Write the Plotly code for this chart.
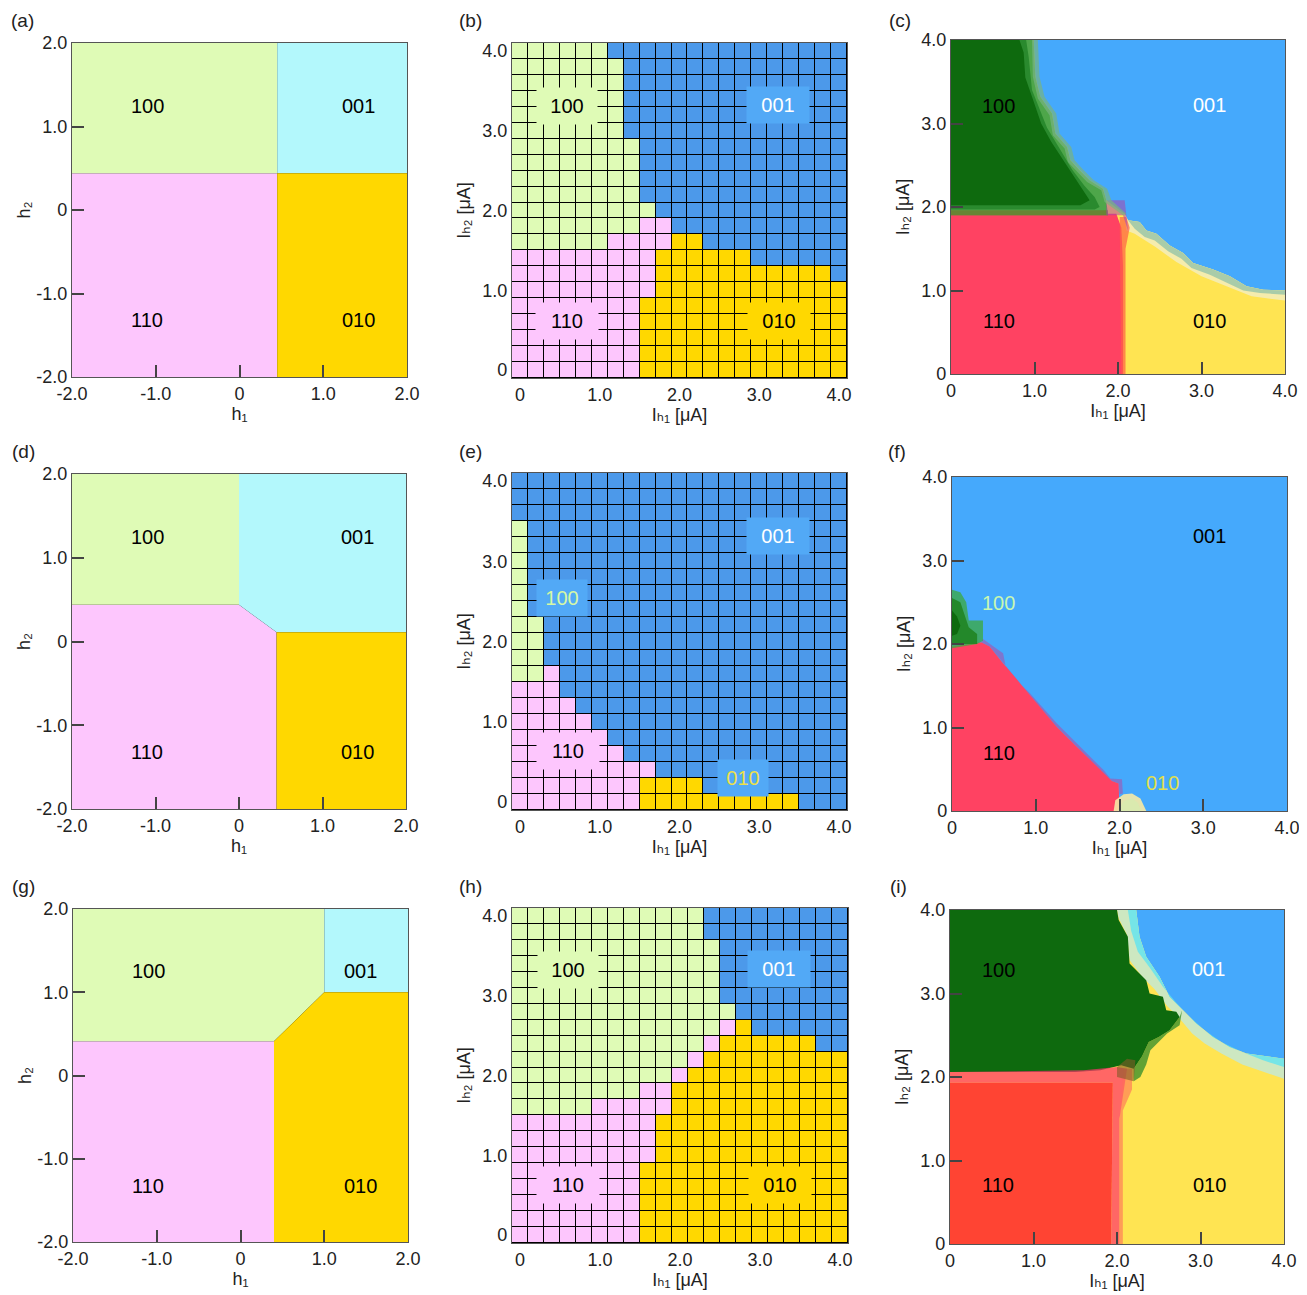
import plotly.graph_objects as go

# The page body keeps its default 8 px margin, so the figure is drawn 8 px in from
# the window's top-left corner.
PAGE_PAD = 8
W, H = 1307 - PAGE_PAD, 1295 - PAGE_PAD
FONT = "Liberation Sans, Arial, Helvetica, DejaVu Sans, sans-serif"

# ---------------- palette ----------------
PINK = "#FDC6FD"
LGREEN = "#DFFBB6"
CYAN = "#B3F8FC"
GOLD = "#FFD800"
GRID_BLUE = "#4C99EA"
BOX_BLUE = "#52A9F6"
R_BLUE = "#45A9FC"
R_GREEN = "#0E6A0E"
R_RED = "#FF4262"
R_RED_I = "#FF4433"
R_YELLOW = "#FFE452"

# ---------------- left column: model phase diagrams (h1, h2) ----------------
A_110_X = [-2, 0.45, 0.45, -2];        A_110_Y = [-2, -2, 0.44, 0.44]
A_100_X = [-2, 0.45, 0.45, -2];        A_100_Y = [0.44, 0.44, 2, 2]
A_001_X = [0.45, 2, 2, 0.45];          A_001_Y = [0.44, 0.44, 2, 2]
A_010_X = [0.45, 2, 2, 0.45];          A_010_Y = [-2, -2, 0.44, 0.44]

D_110_X = [-2, 0.45, 0.45, 0, -2];     D_110_Y = [-2, -2, 0.11, 0.44, 0.44]
D_100_X = [-2, 0, 0, -2];              D_100_Y = [0.44, 0.44, 2, 2]
D_001_X = [0, 2, 2, 0.45, 0];          D_001_Y = [2, 2, 0.11, 0.11, 0.44]
D_010_X = [0.45, 2, 2, 0.45];          D_010_Y = [-2, -2, 0.11, 0.11]

G_110_X = [-2, 0.4, 0.4, -2];          G_110_Y = [-2, -2, 0.41, 0.41]
G_100_X = [-2, 0.4, 1, 1, -2];         G_100_Y = [0.41, 0.41, 1, 2, 2]
G_001_X = [1, 2, 2, 1];                G_001_Y = [1, 1, 2, 2]
G_010_X = [0.4, 2, 2, 1, 0.4];         G_010_Y = [-2, -2, 1, 1, 0.41]

H_TICKS = [-2, -1, 0, 1, 2]
H_TICKTEXT = ["-2.0", "-1.0", "0", "1.0", "2.0"]

# ---------------- middle column: measured grid (Ih1, Ih2) ----------------
I_VALUES = [0.0, 0.2, 0.4, 0.6, 0.8, 1.0, 1.2, 1.4, 1.6, 1.8, 2.0,
            2.2, 2.4, 2.6, 2.8, 3.0, 3.2, 3.4, 3.6, 3.8, 4.0]
# rows listed from Ih2 = 4.0 (top) down to 0.0; P=110, G=100, B=001, Y=010
B_ROWS = [
    "GGGGGGBBBBBBBBBBBBBBB",
    "GGGGGGGBBBBBBBBBBBBBB",
    "GGGGGGGBBBBBBBBBBBBBB",
    "GGGGGGGBBBBBBBBBBBBBB",
    "GGGGGGGBBBBBBBBBBBBBB",
    "GGGGGGGBBBBBBBBBBBBBB",
    "GGGGGGGGBBBBBBBBBBBBB",
    "GGGGGGGGBBBBBBBBBBBBB",
    "GGGGGGGGBBBBBBBBBBBBB",
    "GGGGGGGGBBBBBBBBBBBBB",
    "GGGGGGGGGBBBBBBBBBBBB",
    "GGGGGGGGPPBBBBBBBBBBB",
    "GGGGGGPPPPYYBBBBBBBBB",
    "PPPPPPPPPYYYYYYBBBBBB",
    "PPPPPPPPPYYYYYYYYYYYB",
    "PPPPPPPPPYYYYYYYYYYYY",
    "PPPPPPPPYYYYYYYYYYYYY",
    "PPPPPPPPYYYYYYYYYYYYY",
    "PPPPPPPPYYYYYYYYYYYYY",
    "PPPPPPPPYYYYYYYYYYYYY",
    "PPPPPPPPYYYYYYYYYYYYY",
]
E_ROWS = [
    "BBBBBBBBBBBBBBBBBBBBB",
    "BBBBBBBBBBBBBBBBBBBBB",
    "BBBBBBBBBBBBBBBBBBBBB",
    "GBBBBBBBBBBBBBBBBBBBB",
    "GBBBBBBBBBBBBBBBBBBBB",
    "GBBBBBBBBBBBBBBBBBBBB",
    "GBBBBBBBBBBBBBBBBBBBB",
    "GBBBBBBBBBBBBBBBBBBBB",
    "GBBBBBBBBBBBBBBBBBBBB",
    "GGBBBBBBBBBBBBBBBBBBB",
    "GGBBBBBBBBBBBBBBBBBBB",
    "GGBBBBBBBBBBBBBBBBBBB",
    "GGPBBBBBBBBBBBBBBBBBB",
    "PPPBBBBBBBBBBBBBBBBBB",
    "PPPPBBBBBBBBBBBBBBBBB",
    "PPPPPBBBBBBBBBBBBBBBB",
    "PPPPPPBBBBBBBBBBBBBBB",
    "PPPPPPPBBBBBBBBBBBBBB",
    "PPPPPPPPPBBBBBBBBBBBB",
    "PPPPPPPPYYYYBBBBBBBBB",
    "PPPPPPPPYYYYYYYYYYBBB",
]
H_ROWS = [
    "GGGGGGGGGGGGBBBBBBBBB",
    "GGGGGGGGGGGGBBBBBBBBB",
    "GGGGGGGGGGGGGBBBBBBBB",
    "GGGGGGGGGGGGGBBBBBBBB",
    "GGGGGGGGGGGGGBBBBBBBB",
    "GGGGGGGGGGGGGBBBBBBBB",
    "GGGGGGGGGGGGGGBBBBBBB",
    "GGGGGGGGGGGGGPYBBBBBB",
    "GGGGGGGGGGGGPYYYYYYBB",
    "GGGGGGGGGGGPYYYYYYYYY",
    "GGGGGGGGGGPYYYYYYYYYY",
    "GGGGGGGGPPYYYYYYYYYYY",
    "GGGGGPPPPPYYYYYYYYYYY",
    "PPPPPPPPPYYYYYYYYYYYY",
    "PPPPPPPPPYYYYYYYYYYYY",
    "PPPPPPPPPYYYYYYYYYYYY",
    "PPPPPPPPYYYYYYYYYYYYY",
    "PPPPPPPPYYYYYYYYYYYYY",
    "PPPPPPPPYYYYYYYYYYYYY",
    "PPPPPPPPYYYYYYYYYYYYY",
    "PPPPPPPPYYYYYYYYYYYYY",
]
CODE = {"P": 0, "G": 1, "B": 2, "Y": 3}

I_TICKS = [0, 1, 2, 3, 4]
I_TICKTEXT = ["0", "1.0", "2.0", "3.0", "4.0"]

# ---------------- right column: simulated (smoothed) phase maps ----------------
# (c)
C_001_X = [0.99, 1.01, 1.07, 1.21, 1.25, 1.39, 1.43, 1.54, 1.66, 1.82, 1.86, 2.08, 2.12, 2.26,
           2.34, 2.46, 2.62, 2.78, 2.90, 3.14, 3.34, 3.54, 3.74, 4.0, 4.0]
C_001_Y = [4.0, 3.56, 3.32, 3.12, 2.88, 2.72, 2.56, 2.44, 2.32, 2.22, 2.08, 1.92, 1.84, 1.82,
           1.72, 1.68, 1.54, 1.45, 1.33, 1.25, 1.17, 1.05, 1.01, 1.0, 4.0]
C_PALE_X = [2.08, 2.12, 2.26, 2.34, 2.46, 2.62, 2.78, 2.90, 3.14, 3.34, 3.54, 3.74, 4.0,
            4.0, 3.6, 3.3, 3.0, 2.7, 2.45, 2.2, 2.1]
C_PALE_Y = [1.92, 1.84, 1.82, 1.72, 1.68, 1.54, 1.45, 1.33, 1.25, 1.17, 1.05, 1.01, 1.0,
            0.88, 0.93, 1.05, 1.17, 1.34, 1.52, 1.68, 1.72]
C_GRAY_X = [2.12, 2.26, 2.34, 2.46, 2.62, 2.78, 2.90, 3.14, 3.34, 3.54, 3.74, 4.0,
            4.0, 3.7, 3.5, 3.3, 3.1, 2.88, 2.76, 2.6, 2.44, 2.32, 2.2]
C_GRAY_Y = [1.84, 1.82, 1.72, 1.68, 1.54, 1.45, 1.33, 1.25, 1.17, 1.05, 1.01, 1.0,
            0.95, 0.97, 1.0, 1.1, 1.19, 1.27, 1.38, 1.47, 1.6, 1.64, 1.74]
C_110_X = [0, 2.06, 2.06, 2.04, 1.98, 0]
C_110_Y = [0, 0, 1.3, 1.75, 1.92, 1.92]
C_REDBAND_X = [2.04, 2.09, 2.09, 2.14, 2.1, 2.02]
C_REDBAND_Y = [0, 0, 1.5, 1.75, 1.88, 1.88]
C_PURPLE_X = [1.86, 2.06, 2.12, 2.08, 1.86]
C_PURPLE_Y = [1.9, 1.9, 1.72, 2.08, 2.08]
C_GBASE_X = [0, 0.99, 1.01, 1.07, 1.21, 1.25, 1.39, 1.43, 1.54, 1.66, 1.82, 1.86, 1.88, 0]
C_GBASE_Y = [4, 4, 3.56, 3.32, 3.12, 2.88, 2.72, 2.56, 2.44, 2.32, 2.22, 2.08, 1.9, 1.9]
C_OLIVE_X = [0, 1.88, 1.88, 0]
C_OLIVE_Y = [1.9, 1.9, 1.96, 1.96]
C_GEDGE_X = [0.97, 1.04, 1.06, 1.12, 1.26, 1.30, 1.44, 1.48, 1.59, 1.71, 1.87, 1.92, 2.10,
             2.06, 1.84, 1.80, 1.63, 1.51, 1.40, 1.36, 1.22, 1.18, 1.04, 0.98]
C_GEDGE_Y = [4.0, 4.0, 3.56, 3.32, 3.12, 2.88, 2.72, 2.56, 2.44, 2.32, 2.22, 2.08, 1.92,
             1.90, 2.06, 2.2, 2.3, 2.42, 2.54, 2.7, 2.86, 3.1, 3.3, 3.56]
C_GBAND2_X = [0, 0.9, 0.93, 0.97, 1.07, 1.15, 1.3, 1.45, 1.6, 1.72, 1.78, 1.72, 0]
C_GBAND2_Y = [4, 4, 3.8, 3.4, 3.15, 2.95, 2.7, 2.45, 2.25, 2.12, 2.0, 1.97, 1.97]
C_100_X = [0, 0.82, 0.87, 0.89, 0.97, 1.08, 1.2, 1.35, 1.5, 1.6, 1.66, 1.55, 0]
C_100_Y = [4, 4, 3.85, 3.55, 3.32, 3.0, 2.78, 2.55, 2.32, 2.18, 2.08, 2.02, 2.02]

# (f)
F_110_X = [0, 0, 0.35, 0.45, 0.61, 0.81, 1.01, 1.25, 1.49, 1.73, 1.91, 1.99, 2.0]
F_110_Y = [0, 1.97, 2.02, 1.97, 1.77, 1.53, 1.29, 1.01, 0.77, 0.53, 0.36, 0.33, 0]
F_BAND_X = [0.35, 0.37, 0.61, 0.65, 0.93, 1.25, 1.57, 1.81, 1.89, 2.03, 2.04, 2.0,
            1.99, 1.91, 1.73, 1.49, 1.25, 1.01, 0.81, 0.61, 0.45]
F_BAND_Y = [2.02, 2.06, 1.89, 1.69, 1.41, 1.05, 0.73, 0.49, 0.39, 0.38, 0.21, 0.2,
            0.33, 0.36, 0.53, 0.77, 1.01, 1.29, 1.53, 1.77, 1.97]
F_G1_X = [0, 0, 0.1, 0.17, 0.2, 0.37, 0.37, 0.3]
F_G1_Y = [1.95, 2.65, 2.62, 2.5, 2.28, 2.28, 2.04, 2.0]
F_G2_X = [0, 0, 0.1, 0.15, 0.2, 0.3, 0.3]
F_G2_Y = [2.0, 2.55, 2.5, 2.35, 2.2, 2.12, 2.0]
F_G3_X = [0, 0, 0.06, 0.1, 0.06]
F_G3_Y = [2.1, 2.4, 2.33, 2.22, 2.12]
F_Y1_X = [1.93, 1.95, 2.05, 2.15, 2.25, 2.32]
F_Y1_Y = [0, 0.13, 0.2, 0.21, 0.15, 0]
F_Y2_X = [1.98, 2.05, 2.15, 2.22, 2.26]
F_Y2_Y = [0, 0.12, 0.15, 0.1, 0]

# (i)
I_001_X = [2.23, 2.27, 2.35, 2.51, 2.63, 2.79, 2.95, 3.15, 3.35, 3.55, 4.0, 4.0]
I_001_Y = [4.0, 3.68, 3.44, 3.2, 2.96, 2.8, 2.64, 2.48, 2.36, 2.28, 2.22, 4.0]
I_PALE_X = [2.0, 2.02, 2.12, 2.15, 2.3, 2.45, 2.6, 2.75, 2.9, 3.05, 3.25, 3.5, 3.7, 4.0,
            4.0, 3.55, 3.35, 3.15, 2.95, 2.79, 2.63, 2.51, 2.35, 2.27, 2.23]
I_PALE_Y = [4.0, 3.9, 3.7, 3.4, 3.2, 3.05, 2.85, 2.7, 2.52, 2.4, 2.28, 2.15, 2.08, 1.98,
            2.22, 2.28, 2.36, 2.48, 2.64, 2.8, 2.96, 3.2, 3.44, 3.68, 4.0]
I_CYAN_X = [2.13, 2.17, 2.25, 2.4, 2.55, 2.7, 2.85, 3.05, 3.25, 3.5, 3.75, 4.0,
            4.0, 3.55, 3.35, 3.15, 2.95, 2.79, 2.63, 2.51, 2.35, 2.27, 2.23]
I_CYAN_Y = [4.0, 3.75, 3.5, 3.3, 3.08, 2.9, 2.74, 2.56, 2.42, 2.3, 2.2, 2.12,
            2.22, 2.28, 2.36, 2.48, 2.64, 2.8, 2.96, 3.2, 3.44, 3.68, 4.0]
I_GBAND_X = [2.2, 2.3, 2.38, 2.5, 2.63, 2.75, 2.78, 2.75, 2.6, 2.5, 2.4, 2.35, 2.28, 2.2]
I_GBAND_Y = [2.1, 2.25, 2.42, 2.48, 2.56, 2.72, 2.8, 2.62, 2.52, 2.42, 2.32, 2.15, 2.0, 1.95]
I_100_X = [0, 2.0, 2.02, 2.13, 2.15, 2.35, 2.39, 2.55, 2.59, 2.71, 2.75, 2.63, 2.5, 2.38,
           2.3, 2.2, 2.05, 1.8, 1.5, 0]
I_100_Y = [4, 4, 3.88, 3.68, 3.36, 3.16, 3.0, 2.96, 2.8, 2.78, 2.72, 2.56, 2.48, 2.42,
           2.25, 2.1, 2.14, 2.08, 2.06, 2.06]
I_110_X = [0, 1.93, 1.95, 0]
I_110_Y = [0, 0, 1.93, 1.93]
I_RBAND_X = [0, 1.95, 1.93, 2.03, 2.03, 2.08, 2.12, 2.0, 1.6, 0]
I_RBAND_Y = [1.93, 1.93, 0, 0, 1.5, 1.85, 2.1, 2.12, 2.08, 2.06]
I_RBAND2_X = [2.03, 2.07, 2.07, 2.18, 2.18, 2.08, 2.03]
I_RBAND2_Y = [0, 0, 1.6, 1.85, 2.1, 2.1, 1.5]
I_OLIVE_X = [2.0, 2.2, 2.22, 2.12, 2.0]
I_OLIVE_Y = [2.0, 1.95, 2.2, 2.22, 2.12]

# ---------------- region labels ----------------
LEFT_LABELS = {  # panel: list of (text, x, y)
    1: [("100", -1.1, 1.25), ("001", 1.42, 1.25), ("110", -1.1, -1.32), ("010", 1.42, -1.32)],
    4: [("100", -1.1, 1.25), ("001", 1.42, 1.25), ("110", -1.1, -1.32), ("010", 1.42, -1.32)],
    7: [("100", -1.1, 1.26), ("001", 1.43, 1.26), ("110", -1.1, -1.33), ("010", 1.43, -1.33)],
}
MID_LABELS = {  # (text, x, y, text colour, box colour, box width)
    2: [("100", 0.59, 3.31, "black", LGREEN, 58), ("001", 3.24, 3.32, "white", BOX_BLUE, 60),
        ("110", 0.59, 0.61, "black", PINK, 60), ("010", 3.25, 0.61, "black", GOLD, 60)],
    5: [("001", 3.24, 3.32, "white", BOX_BLUE, 60), ("100", 0.53, 2.54, "#D6F8A6", BOX_BLUE, 48),
        ("110", 0.6, 0.63, "black", PINK, 60), ("010", 2.8, 0.30, "#EDE04A", BOX_BLUE, 48)],
    8: [("100", 0.6, 3.32, "black", LGREEN, 58), ("001", 3.24, 3.33, "white", BOX_BLUE, 60),
        ("110", 0.6, 0.63, "black", PINK, 60), ("010", 3.25, 0.63, "black", GOLD, 60)],
}
RIGHT_LABELS = {
    3: [("100", 0.57, 3.21, "black"), ("001", 3.09, 3.22, "white"),
        ("110", 0.57, 0.64, "black"), ("010", 3.09, 0.64, "black")],
    6: [("001", 3.07, 3.29, "black"), ("100", 0.55, 2.49, "#C8F8B0"),
        ("110", 0.56, 0.69, "black"), ("010", 2.51, 0.34, "#E2E04A")],
    9: [("100", 0.58, 3.28, "black"), ("001", 3.10, 3.29, "white"),
        ("110", 0.58, 0.71, "black"), ("010", 3.11, 0.71, "black")],
}
PANEL_LETTERS = ["(a)", "(b)", "(c)", "(d)", "(e)", "(f)", "(g)", "(h)", "(i)"]
# axis titles (unicode subscripts)
H1_TITLE, H2_TITLE = "h\u2081", "h\u2082"
IH1_TITLE, IH2_TITLE = "I\u2095\u2081 [μA]", "I\u2095\u2082 [μA]"

# ---------------- layout geometry (window pixels: x0, x1, y0, y1) ----------------
PANEL_PX = {
    1: (72, 407, 43, 377), 2: (512, 847, 43, 378), 3: (951, 1285, 40, 374),
    4: (72, 406, 474, 809), 5: (512, 847, 473, 810), 6: (952, 1287, 477, 811),
    7: (73, 408, 909, 1242), 8: (512, 848, 908, 1243), 9: (950, 1284, 910, 1244),
}
LETTER_PX = {1: (22, 20), 2: (470, 20), 3: (900, 21), 4: (24, 452), 5: (470, 452),
             6: (897, 452), 7: (24, 886), 8: (470, 886), 9: (898, 886)}


def px_x(p):
    return (p - PAGE_PAD) / W


def px_y(p):
    return 1 - (p - PAGE_PAD) / H


fig = go.Figure()


def ax(k, which):
    return which if k == 1 else f"{which}{k}"


def poly(k, xs, ys, color):
    fig.add_trace(go.Scatter(
        x=xs, y=ys, mode="lines", fill="toself", fillcolor=color,
        line=dict(width=0, color=color), hoverinfo="skip", showlegend=False,
        xaxis=ax(k, "x"), yaxis=ax(k, "y")))


# left column
for k, regions in [
    (1, [(A_110_X, A_110_Y, PINK), (A_100_X, A_100_Y, LGREEN), (A_001_X, A_001_Y, CYAN), (A_010_X, A_010_Y, GOLD)]),
    (4, [(D_110_X, D_110_Y, PINK), (D_100_X, D_100_Y, LGREEN), (D_001_X, D_001_Y, CYAN), (D_010_X, D_010_Y, GOLD)]),
    (7, [(G_110_X, G_110_Y, PINK), (G_100_X, G_100_Y, LGREEN), (G_001_X, G_001_Y, CYAN), (G_010_X, G_010_Y, GOLD)]),
]:
    for xs, ys, col in regions:
        poly(k, xs, ys, col)

# middle column heatmaps
GRID_SCALE = [[0, PINK], [0.25, PINK], [0.25, LGREEN], [0.5, LGREEN],
              [0.5, GRID_BLUE], [0.75, GRID_BLUE], [0.75, GOLD], [1, GOLD]]
Y_TOP_DOWN = I_VALUES[::-1]
for k, rows in [(2, B_ROWS), (5, E_ROWS), (8, H_ROWS)]:
    z = [[CODE[c] for c in row] for row in rows]
    fig.add_trace(go.Heatmap(
        z=z, x=I_VALUES, y=Y_TOP_DOWN, colorscale=GRID_SCALE, zmin=-0.5, zmax=3.5,
        showscale=False, xgap=1, ygap=1, hoverinfo="skip",
        xaxis=ax(k, "x"), yaxis=ax(k, "y")))

FULL_X = [0, 4, 4, 0]
FULL_Y = [0, 0, 4, 4]
# (c)
poly(3, FULL_X, FULL_Y, R_YELLOW)
poly(3, C_001_X, C_001_Y, R_BLUE)
poly(3, C_PALE_X, C_PALE_Y, "rgba(244,236,178,0.95)")
poly(3, C_GRAY_X, C_GRAY_Y, "rgba(150,196,168,0.8)")
poly(3, C_110_X, C_110_Y, R_RED)
poly(3, C_REDBAND_X, C_REDBAND_Y, "rgba(255,95,70,0.7)")
poly(3, C_GBASE_X, C_GBASE_Y, "#4EA64A")
poly(3, C_OLIVE_X, C_OLIVE_Y, "rgba(115,120,45,0.75)")
poly(3, C_PURPLE_X, C_PURPLE_Y, "rgba(170,70,170,0.55)")
poly(3, C_GEDGE_X, C_GEDGE_Y, "rgba(120,180,130,0.7)")
poly(3, C_GBAND2_X, C_GBAND2_Y, "#2A8A2E")
poly(3, C_100_X, C_100_Y, R_GREEN)
# (f)
poly(6, FULL_X, FULL_Y, R_BLUE)
poly(6, F_BAND_X, F_BAND_Y, "rgba(165,85,175,0.6)")
poly(6, F_110_X, F_110_Y, R_RED)
poly(6, F_G1_X, F_G1_Y, "rgba(60,170,60,0.75)")
poly(6, F_G2_X, F_G2_Y, "rgba(30,130,30,0.85)")
poly(6, F_G3_X, F_G3_Y, "#0E6A0E")
poly(6, F_Y1_X, F_Y1_Y, "rgba(246,234,165,0.9)")
poly(6, F_Y2_X, F_Y2_Y, "rgba(215,235,175,0.8)")
# (i)
poly(9, FULL_X, FULL_Y, R_YELLOW)
poly(9, I_001_X, I_001_Y, R_BLUE)
poly(9, I_PALE_X, I_PALE_Y, "rgba(200,232,205,0.9)")
poly(9, I_CYAN_X, I_CYAN_Y, "rgba(95,228,240,0.8)")
poly(9, I_GBAND_X, I_GBAND_Y, "rgba(60,145,45,0.8)")
poly(9, I_100_X, I_100_Y, R_GREEN)
poly(9, I_110_X, I_110_Y, R_RED_I)
poly(9, I_RBAND_X, I_RBAND_Y, "rgba(255,50,110,0.7)")
poly(9, I_RBAND2_X, I_RBAND2_Y, "rgba(255,110,90,0.6)")
poly(9, I_OLIVE_X, I_OLIVE_Y, "rgba(130,90,40,0.6)")

# ---------------- axes ----------------
TICKFONT = dict(family=FONT, size=18, color="#222")
TITLEFONT = dict(family=FONT, size=18, color="#222")
layout = dict(
    template="none",
    width=W, height=H, autosize=False,
    margin=dict(l=0, r=0, t=0, b=0, pad=0, autoexpand=False),
    paper_bgcolor="white", plot_bgcolor="black", showlegend=False,
    font=dict(family=FONT, size=18, color="#222"),
)
annotations = []
for k, (x0, x1, y0, y1) in PANEL_PX.items():
    col = (k - 1) % 3
    xd = [px_x(x0), px_x(x1)]
    yd = [px_y(y1), px_y(y0)]
    base = dict(showgrid=False, zeroline=False, showline=True, mirror=True, automargin=False,
                linecolor="#555", linewidth=1.2, tickfont=TICKFONT, fixedrange=True)
    if col == 0:
        rng, tv, tt, ticks = [-2, 2], H_TICKS, H_TICKTEXT, "inside"
        xt, yt, ys = H1_TITLE, H2_TITLE, 0
    elif col == 1:
        rng, tv, tt, ticks = [-0.1, 4.1], I_TICKS, I_TICKTEXT, ""
        xt, yt, ys = IH1_TITLE, IH2_TITLE, 6
    else:
        rng, tv, tt, ticks = [0, 4], I_TICKS, I_TICKTEXT, "inside"
        xt, yt, ys = IH1_TITLE, IH2_TITLE, 6
    xa = dict(base, domain=xd, range=rng, tickvals=tv, ticktext=tt, ticks=ticks,
              ticklen=12, tickwidth=1.5, tickcolor="#444", anchor=ax(k, "y"),
              title=dict(text=xt, font=TITLEFONT, standoff=2))
    ya = dict(base, domain=yd, range=rng, tickvals=tv, ticktext=tt, ticks=ticks,
              ticklen=12, tickwidth=1.5, tickcolor="#444", anchor=ax(k, "x"),
              title=dict(text=yt, font=TITLEFONT, standoff=ys))
    layout["xaxis" if k == 1 else f"xaxis{k}"] = xa
    layout["yaxis" if k == 1 else f"yaxis{k}"] = ya

    lx, ly = LETTER_PX[k]
    annotations.append(dict(text=PANEL_LETTERS[k - 1], x=px_x(lx), y=px_y(ly), xref="paper",
                            yref="paper", showarrow=False, font=dict(family=FONT, size=19, color="#222"),
                            xanchor="center", yanchor="middle"))

for k, labs in LEFT_LABELS.items():
    for t, x, y in labs:
        annotations.append(dict(text=t, x=x, y=y, xref=ax(k, "x"), yref=ax(k, "y"), showarrow=False,
                                xanchor="center", yanchor="middle",
                                font=dict(family=FONT, size=20, color="black")))
for k, labs in MID_LABELS.items():
    for t, x, y, fc, bc, bw in labs:
        annotations.append(dict(text=t, x=x, y=y, xref=ax(k, "x"), yref=ax(k, "y"), showarrow=False,
                                xanchor="center", yanchor="middle",
                                font=dict(family=FONT, size=20, color=fc), bgcolor=bc,
                                width=bw, height=34))
for k, labs in RIGHT_LABELS.items():
    for t, x, y, fc in labs:
        annotations.append(dict(text=t, x=x, y=y, xref=ax(k, "x"), yref=ax(k, "y"), showarrow=False,
                                xanchor="center", yanchor="middle",
                                font=dict(family=FONT, size=20, color=fc)))

layout["annotations"] = annotations
fig.update_layout(**layout)
fig.write_html("out.html")
